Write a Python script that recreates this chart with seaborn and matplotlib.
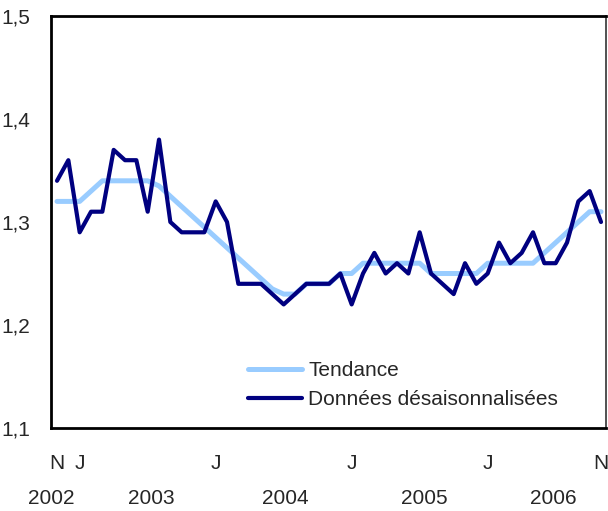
import numpy as np
import pandas as pd
import matplotlib
matplotlib.use("Agg")
import matplotlib.pyplot as plt
import matplotlib.transforms as mtransforms
import seaborn as sns

# monthly, Nov 2002 to Nov 2006
months = pd.date_range("2002-11-01", "2006-11-01", freq="MS")

tendance = [1.32, 1.32, 1.32, 1.33, 1.34, 1.34, 1.34, 1.34, 1.34, 1.335, 1.325, 1.315,
            1.305, 1.295, 1.285, 1.275, 1.265, 1.255, 1.245, 1.235, 1.23, 1.23, 1.24, 1.24,
            1.24, 1.25, 1.25, 1.26, 1.26, 1.26, 1.26, 1.26, 1.26, 1.25, 1.25, 1.25,
            1.25, 1.25, 1.26, 1.26, 1.26, 1.26, 1.26, 1.27, 1.28, 1.29, 1.30, 1.31, 1.31]

desaison = [1.34, 1.36, 1.29, 1.31, 1.31, 1.37, 1.36, 1.36, 1.31, 1.38, 1.30, 1.29,
            1.29, 1.29, 1.32, 1.30, 1.24, 1.24, 1.24, 1.23, 1.22, 1.23, 1.24, 1.24,
            1.24, 1.25, 1.22, 1.25, 1.27, 1.25, 1.26, 1.25, 1.29, 1.25, 1.24, 1.23,
            1.26, 1.24, 1.25, 1.28, 1.26, 1.27, 1.29, 1.26, 1.26, 1.28, 1.32, 1.33, 1.30]

month_labels = {0: "N", 2: "J", 14: "J", 26: "J", 38: "J", 48: "N"}
years = ["2002", "2003", "2004", "2005", "2006"]
year_pos = [-0.5, 8.3, 20.1, 32.4, 43.8]
yticks = [1.1, 1.2, 1.3, 1.4, 1.5]

sns.set_style("white")
plt.rcParams['font.family'] = ['Liberation Sans', 'DejaVu Sans']
fs = 15

df = pd.DataFrame({"idx": np.arange(len(months)),
                   "Tendance": tendance,
                   "Données désaisonnalisées": desaison})
long = df.melt(id_vars="idx", var_name="serie", value_name="val")

fig = plt.figure(figsize=(6.08, 5.11), dpi=100)
ax = fig.add_axes([0.0839, 0.1624, 0.9128, 0.8063])

sns.lineplot(data=long, x="idx", y="val", hue="serie",
             palette={"Tendance": "#99ccff", "Données désaisonnalisées": "#000080"},
             ax=ax, legend=False)
lines = ax.get_lines()
lines[0].set_linewidth(3.6)
lines[1].set_linewidth(3.0)
lines[1].set_zorder(3)

ax.set_xlim(-0.53, 48.44)
ax.set_ylim(1.1, 1.5)
ax.set_xlabel("")
ax.set_ylabel("")

ax.set_xticks(np.arange(len(months)))
ax.set_xticklabels([month_labels.get(i, "") for i in range(len(months))], fontsize=fs)
ax.set_yticks(yticks)
ax.set_yticklabels([f"{v:.1f}".replace(".", ",") for v in yticks], fontsize=fs)
ax.tick_params(axis="x", direction="in", length=6, width=1.2, pad=19, color="black")
ax.tick_params(axis="y", direction="in", length=6, width=1.2, pad=15, color="black")

for s in ax.spines.values():
    s.set_visible(True)
    s.set_color("black")
    s.set_linewidth(2)
ax.spines["right"].set_linewidth(1.2)
ax.spines["right"].set_color("#333333")

trans = mtransforms.blended_transform_factory(ax.transData, ax.transAxes)
for y, p in zip(years, year_pos):
    ax.text(p, -0.17, y, transform=trans, ha="center", va="center", fontsize=fs)

ax.legend(lines, ["Tendance", "Données désaisonnalisées"], loc="lower left",
          bbox_to_anchor=(0.355, 0.045), frameon=False, fontsize=fs,
          handlelength=2.6, handletextpad=0.3, labelspacing=0.5,
          borderaxespad=0, borderpad=0)

fig.savefig("out.png", dpi=100)
